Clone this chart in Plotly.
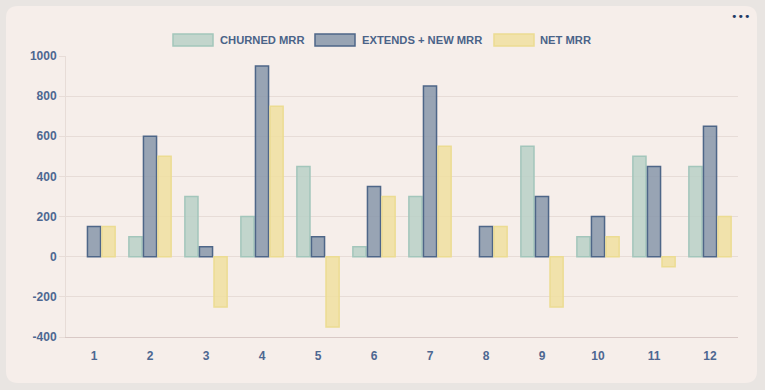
import plotly.graph_objects as go

categories = [str(i) for i in range(1, 13)]
churned = [None, 100, 300, 200, 450, 50, 300, None, 550, 100, 500, 450]
extends_new = [150, 600, 50, 950, 100, 350, 850, 150, 300, 200, 450, 650]
net = [150, 500, -250, 750, -350, 300, 550, 150, -250, 100, -50, 200]
series_names = ["CHURNED MRR", "EXTENDS + NEW MRR", "NET MRR"]
y_ticks = [-400, -200, 0, 200, 400, 600, 800, 1000]
y_tick_labels = ["-400", "-200", "0", "200", "400", "600", "800", "1000"]

fills = ["rgba(184,208,199,0.85)", "rgba(135,150,170,0.85)", "rgba(240,223,160,0.85)"]
lines = ["#a3c6bb", "#4e6688", "#ecdc92"]

W, H = 765, 390
L, R, T, B = 66, 738, 56, 337

fig = go.Figure()
for name, vals, f, lc in zip(series_names, [churned, extends_new, net], fills, lines):
    fig.add_trace(go.Bar(x=categories, y=vals, name=name,
                         marker=dict(color=f, line=dict(color=lc, width=1.5)),
                         showlegend=False))

def px_to_paper(x, y):
    return (x - L) / (R - L), (B - y) / (B - T)

# rounded card
x0, y0, x1, y1, r = 6, 6, 757, 383, 12
def P(x, y):
    a, b = px_to_paper(x, y)
    return f"{a:.5f},{b:.5f}"
path = (f"M {P(x0+r,y0)} L {P(x1-r,y0)} Q {P(x1,y0)} {P(x1,y0+r)} "
        f"L {P(x1,y1-r)} Q {P(x1,y1)} {P(x1-r,y1)} L {P(x0+r,y1)} "
        f"Q {P(x0,y1)} {P(x0,y1-r)} L {P(x0,y0+r)} Q {P(x0,y0)} {P(x0+r,y0)} Z")
shapes = [dict(type="path", xref="paper", yref="paper", path=path,
               fillcolor="#f6eeea", line=dict(width=0), layer="below")]

annotations = []
# custom legend
leg_items = [(173, 218), (315, 360), (494, 538)]
for (bx, tx), name, f, lc in zip(leg_items, series_names, fills, lines):
    a0, b0 = px_to_paper(bx, 46)
    a1, b1 = px_to_paper(bx + 40, 34)
    shapes.append(dict(type="rect", xref="paper", yref="paper", x0=a0, y0=b0, x1=a1, y1=b1,
                       fillcolor=f, line=dict(color=lc, width=1.5)))
    ta, tb = px_to_paper(tx, 40)
    annotations.append(dict(xref="paper", yref="paper", x=ta, y=tb, text=name,
                            showarrow=False, xanchor="left", yanchor="middle",
                            font=dict(family="Liberation Sans, Arial", size=11.2,
                                      color="#4a6388", weight="bold")))
da, db = px_to_paper(740, 17)
annotations.append(dict(xref="paper", yref="paper", x=da, y=db, text="•••", showarrow=False,
                        xanchor="center", yanchor="middle",
                        font=dict(family="DejaVu Sans", size=11, color="#1f3a66")))

tickfont = dict(family="Liberation Sans, Arial", size=12, color="#4d6791", weight="bold")
fig.update_layout(
    width=W, height=H,
    margin=dict(l=L, r=W - R, t=T, b=H - B, pad=0),
    paper_bgcolor="#e9e5e2", plot_bgcolor="rgba(0,0,0,0)",
    barmode="group", bargap=0.22, bargroupgap=0.1,
    shapes=shapes, annotations=annotations,
    xaxis=dict(showgrid=False, showline=True, linecolor="#d9c9c6", linewidth=1,
               tickfont=tickfont, ticks="", ticklabelstandoff=8),
    yaxis=dict(range=[-400, 1000], tickvals=y_ticks, ticktext=y_tick_labels,
               showgrid=True, gridcolor="#e7dcd7",
               gridwidth=1, zeroline=False, showline=True, linecolor="#e7dcd7",
               ticks="outside", ticklen=6, tickcolor="#e7dcd7", tickfont=tickfont),
)
fig.write_html("out.html", config={"displayModeBar": False},
               post_script="document.body.style.margin='0';document.body.style.background='#e9e5e2';")
